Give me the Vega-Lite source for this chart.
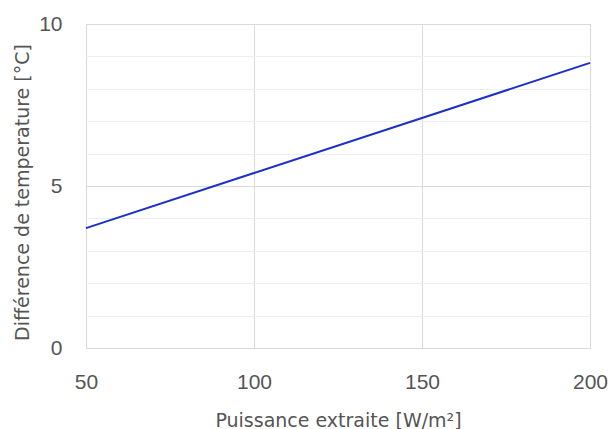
{
  "$schema": "https://vega.github.io/schema/vega-lite/v6.json",
  "width": 504,
  "height": 324,
  "autosize": {"type": "none"},
  "padding": {"left": 86, "top": 24, "right": 21, "bottom": 81},
  "background": "white",
  "config": {
    "view": {"stroke": "#d4d4d4", "strokeWidth": 1},
    "font": "DejaVu Sans"
  },
  "data": {
    "values": [
      {"p": 50, "dt": 3.7},
      {"p": 100, "dt": 5.4},
      {"p": 150, "dt": 7.1},
      {"p": 200, "dt": 8.8}
    ]
  },
  "mark": {"type": "line", "color": "#1a30c8", "strokeWidth": 2},
  "encoding": {
    "x": {
      "field": "p",
      "type": "quantitative",
      "scale": {"domain": [50, 200], "nice": false, "zero": false},
      "axis": {
        "values": [50, 100, 150, 200],
        "title": "Puissance extraite [W/m²]",
        "titleFont": "DejaVu Sans",
        "titleFontSize": 19,
        "titleFontWeight": "normal",
        "titleColor": "#555555",
        "titlePadding": 19,
        "labelFont": "Liberation Sans",
        "labelFontSize": 21,
        "labelColor": "#555555",
        "labelPadding": 23,
        "ticks": false,
        "domain": false,
        "grid": true,
        "gridColor": "#d9d9d9",
        "labelFlush": false
      }
    },
    "y": {
      "field": "dt",
      "type": "quantitative",
      "scale": {"domain": [0, 10], "nice": false},
      "axis": {
        "values": [0, 1, 2, 3, 4, 5, 6, 7, 8, 9, 10],
        "labelExpr": "datum.value % 5 === 0 ? datum.label : ''",
        "title": "Différence de temperature [°C]",
        "titleFont": "DejaVu Sans",
        "titleFontSize": 19,
        "titleFontWeight": "normal",
        "titleColor": "#555555",
        "titlePadding": 6,
        "titleY": 168,
        "labelFont": "Liberation Sans",
        "labelFontSize": 21,
        "labelColor": "#555555",
        "labelPadding": 24,
        "ticks": false,
        "domain": false,
        "grid": true,
        "gridColor": {"condition": {"test": "datum.value % 5 === 0", "value": "#d9d9d9"}, "value": "#eeeeee"},
        "labelFlush": false
      }
    }
  }
}
